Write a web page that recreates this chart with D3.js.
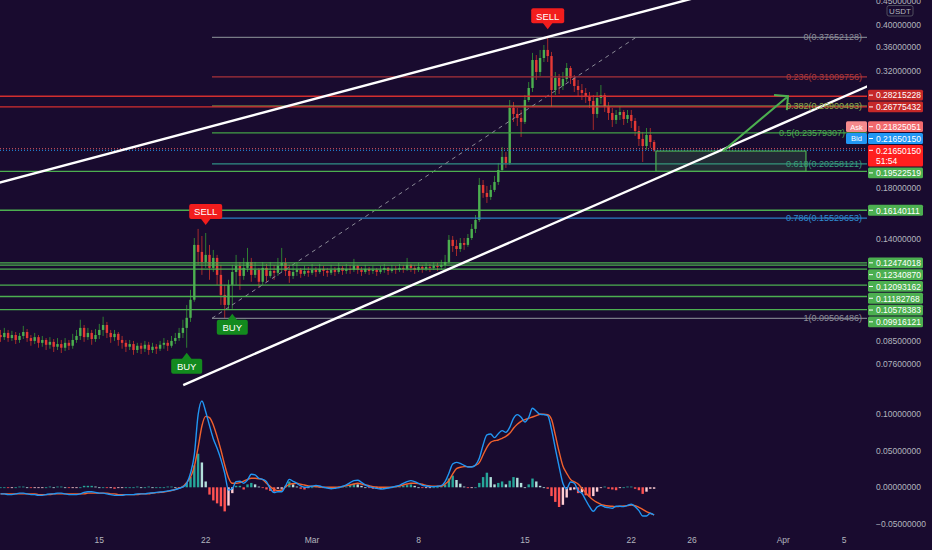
<!DOCTYPE html>
<html><head><meta charset="utf-8">
<script src="https://cdnjs.cloudflare.com/ajax/libs/d3/7.8.5/d3.min.js"></script>
<style>
html,body{margin:0;padding:0;background:#190b2f;overflow:hidden;}
svg{display:block;font-family:"Liberation Sans",Arial,sans-serif;}
</style></head><body>
<svg id="chart" width="932" height="550"></svg>
<script>
// ================= DATA =================
const candleStart = "2021-02-08T12:00:00Z";   // 6h candles
const candleHours = 6;
const firstOpen = 0.0876;
const closes = [
0.0867,0.0885,0.0863,0.0876,0.0855,0.0872,0.0889,0.0863,0.0851,0.0867,
0.0843,0.0855,0.0835,0.0847,0.0827,0.0838,0.0823,0.0843,0.0831,0.0855,
0.0872,0.0907,0.0867,0.0885,0.0859,0.0876,0.0898,0.0920,0.0885,0.0867,
0.0881,0.0855,0.0843,0.0827,0.0838,0.0814,0.0831,0.0819,0.0835,0.0814,
0.0827,0.0819,0.0835,0.0843,0.0831,0.0851,0.0863,0.0885,0.0907,
0.0953,0.1041,0.1362,0.1316,0.1253,0.1297,0.1217,0.1278,0.1176,0.1066,
0.1015,0.1120,0.1193,0.1229,0.1170,0.1217,0.1253,0.1176,0.1205,0.1137,
0.1217,0.1170,0.1199,0.1188,0.1229,0.1247,0.1199,0.1170,0.1193,0.1205,
0.1182,0.1199,0.1188,0.1205,0.1193,0.1211,0.1199,0.1188,0.1205,0.1193,
0.1217,0.1199,0.1211,0.1205,0.1229,0.1205,0.1193,0.1211,0.1199,0.1205,
0.1193,0.1205,0.1217,0.1199,0.1211,0.1205,0.1217,0.1211,0.1235,0.1217,
0.1205,0.1223,0.1211,0.1223,0.1217,0.1229,0.1223,0.1235,0.1253,
0.1396,0.1355,0.1335,0.1375,0.1362,0.1409,0.1473,0.1539,0.1827,0.1757,
0.1723,0.1783,0.1854,0.1966,0.2096,0.2035,0.2664,0.2587,0.2537,0.2488,
0.2770,0.2938,0.3370,0.3178,0.3403,0.3540,0.3436,0.2909,0.3086,0.2967,
0.3070,0.3240,0.3086,0.2967,0.2909,0.2867,0.2811,0.2757,0.2587,0.2798,
0.2839,0.2690,0.2599,0.2512,0.2574,0.2612,0.2524,0.2574,0.2500,0.2380,
0.2289,0.2211,0.2334,0.2255,0.2165015
];
const highs = [
0.0898,0.0907,0.0898,0.0894,0.0889,0.0885,0.0916,0.0902,0.0876,0.0885,
0.0876,0.0872,0.0863,0.0867,0.0859,0.0863,0.0855,0.0863,0.0855,0.0881,
0.0898,0.0944,0.0920,0.0907,0.0898,0.0902,0.0925,0.0958,0.0934,0.0898,
0.0898,0.0889,0.0872,0.0855,0.0855,0.0851,0.0843,0.0843,0.0851,0.0847,
0.0843,0.0838,0.0851,0.0863,0.0855,0.0872,0.0885,0.0907,0.0944,
0.1015,0.1093,0.1409,0.1473,0.1423,0.1444,0.1362,0.1329,0.1297,0.1235,
0.1120,0.1148,0.1235,0.1297,0.1253,0.1278,0.1342,0.1278,0.1253,0.1217,
0.1253,0.1241,0.1253,0.1235,0.1278,0.1342,0.1278,0.1235,0.1229,0.1253,
0.1217,0.1229,0.1223,0.1241,0.1223,0.1241,0.1229,0.1217,0.1235,0.1223,
0.1247,0.1229,0.1241,0.1235,0.1272,0.1235,0.1223,0.1235,0.1223,0.1229,
0.1217,0.1229,0.1241,0.1223,0.1235,0.1229,0.1241,0.1235,0.1278,0.1241,
0.1235,0.1247,0.1235,0.1247,0.1241,0.1253,0.1247,0.1266,0.1297,
0.1430,0.1423,0.1396,0.1409,0.1409,0.1437,0.1509,0.1577,0.1891,0.1872,
0.1818,0.1827,0.1910,0.2035,0.2200,0.2147,0.2770,0.2743,0.2664,0.2638,
0.2839,0.3025,0.3489,0.3453,0.3540,0.3627,0.37652128,0.3506,0.3178,0.3147,
0.3178,0.3321,0.3272,0.3131,0.3055,0.2996,0.2938,0.2881,0.2839,0.2881,
0.2981,0.2867,0.2743,0.2664,0.2638,0.2690,0.2638,0.2638,0.2638,0.2537,
0.2439,0.2369,0.2415,0.2415,0.2277
];
const lows = [
0.0847,0.0855,0.0847,0.0851,0.0838,0.0843,0.0859,0.0847,0.0831,0.0838,
0.0823,0.0827,0.0814,0.0819,0.0806,0.0814,0.0802,0.0810,0.0814,0.0819,
0.0843,0.0855,0.0847,0.0855,0.0835,0.0847,0.0859,0.0872,0.0863,0.0843,
0.0851,0.0831,0.0819,0.0806,0.0814,0.0795,0.0802,0.0798,0.0806,0.0795,
0.0802,0.0798,0.0810,0.0819,0.0810,0.0823,0.0838,0.0851,0.0863,
0.0823,0.0934,0.1031,0.1235,0.1176,0.1217,0.1148,0.1193,0.1120,0.1015,
0.0951,0.0991,0.0996,0.1120,0.1093,0.1148,0.1193,0.1137,0.1159,0.1104,
0.1120,0.1137,0.1159,0.1148,0.1170,0.1193,0.1170,0.1131,0.1153,0.1170,
0.1159,0.1170,0.1165,0.1176,0.1165,0.1182,0.1170,0.1165,0.1176,0.1170,
0.1182,0.1176,0.1182,0.1182,0.1193,0.1182,0.1170,0.1182,0.1176,0.1182,
0.1170,0.1182,0.1188,0.1176,0.1188,0.1182,0.1193,0.1188,0.1199,0.1193,
0.1182,0.1193,0.1188,0.1199,0.1193,0.1205,0.1199,0.1205,0.1217,
0.1241,0.1316,0.1290,0.1316,0.1329,0.1349,0.1396,0.1444,0.1524,0.1715,
0.1673,0.1698,0.1765,0.1827,0.1947,0.1986,0.2015,0.2488,0.2439,0.2311,
0.2463,0.2743,0.2881,0.3055,0.3116,0.3337,0.3337,0.2677,0.2839,0.2853,
0.2909,0.3025,0.2996,0.2881,0.2811,0.2770,0.2730,0.2664,0.2392,0.2537,
0.2716,0.2612,0.2512,0.2427,0.2463,0.2512,0.2451,0.2475,0.2415,0.2323,
0.2211,0.2045,0.2169,0.2190,0.2147
];

// MACD pane, one value per candle
const macdLine = [
-0.009,-0.009,-0.010,-0.010,-0.009,-0.008,-0.008,-0.009,-0.010,-0.010,
-0.011,-0.011,-0.010,-0.009,-0.009,-0.008,-0.008,-0.009,-0.010,-0.010,
-0.010,-0.009,-0.007,-0.006,-0.006,-0.007,-0.008,-0.008,-0.009,-0.010,
-0.011,-0.011,-0.011,-0.010,-0.010,-0.010,-0.009,-0.009,-0.009,-0.008,
-0.0078,-0.0069,-0.0065,-0.0060,-0.0051,-0.0041,-0.0032,-0.0014,0.0005,0.0055,
0.0192,0.0443,0.0991,0.1182,0.1036,0.0845,0.0666,0.0534,0.0383,0.0192,
-0.0037,-0.0019,0.0077,0.0082,0.0055,0.0100,0.0178,0.0169,0.0123,0.0109,
0.0077,-0.0019,-0.0073,-0.0060,-0.0060,0.0018,0.0109,0.0082,0.0055,0.0018,
0.0000,0.0005,0.0014,0.0027,0.0018,0.0000,-0.0009,-0.0019,-0.0014,-0.0005,
0.0014,0.0032,0.0064,0.0091,0.0096,0.0068,0.0032,0.0009,-0.0005,-0.0014,
-0.0023,-0.0019,-0.0009,0.0000,0.0014,0.0027,0.0055,0.0077,0.0091,0.0077,
0.0055,0.0027,0.0018,0.0009,0.0009,0.0014,0.0023,0.0077,0.0192,0.0319,
0.0342,0.0328,0.0301,0.0278,0.0278,0.0306,0.0397,0.0580,0.0717,0.0730,
0.0680,0.0735,0.0776,0.0753,0.0822,0.0945,0.0995,0.0959,0.0895,0.0959,
0.1082,0.1041,0.1000,0.0995,0.0981,0.0794,0.0534,0.0283,0.0055,-0.0019,
0.0073,0.0055,-0.0046,-0.0082,-0.0174,-0.0265,-0.0329,-0.0270,-0.0247,-0.0270,
-0.0279,-0.0288,-0.0260,-0.0260,-0.0265,-0.0247,-0.0233,-0.0265,-0.0320,-0.0393,
-0.0393,-0.0356,-0.0379
];
const signalLine = [
-0.009,-0.009,-0.009,-0.009,-0.009,-0.009,-0.009,-0.009,-0.009,-0.009,
-0.010,-0.010,-0.010,-0.010,-0.009,-0.009,-0.009,-0.009,-0.009,-0.009,
-0.009,-0.009,-0.009,-0.008,-0.008,-0.008,-0.008,-0.008,-0.008,-0.009,
-0.009,-0.010,-0.010,-0.010,-0.010,-0.010,-0.010,-0.009,-0.009,-0.009,
-0.0078,-0.0073,-0.0069,-0.0065,-0.0055,-0.0046,-0.0028,-0.0009,0.0009,0.0064,
0.0137,0.0283,0.0543,0.0840,0.0972,0.0954,0.0854,0.0694,0.0511,0.0306,
0.0132,0.0055,0.0055,0.0064,0.0086,0.0109,0.0123,0.0123,0.0118,0.0105,
0.0055,0.0009,-0.0028,-0.0046,-0.0037,0.0005,0.0041,0.0050,0.0055,0.0041,
0.0032,0.0018,0.0014,0.0009,0.0005,0.0000,0.0000,0.0000,0.0000,0.0005,
0.0009,0.0023,0.0032,0.0045,0.0055,0.0045,0.0032,0.0023,0.0009,0.0005,
0.0000,0.0000,0.0000,0.0000,0.0009,0.0018,0.0032,0.0045,0.0055,0.0055,
0.0050,0.0041,0.0027,0.0018,0.0014,0.0014,0.0014,0.0045,0.0091,0.0183,
0.0256,0.0274,0.0283,0.0283,0.0283,0.0301,0.0338,0.0443,0.0548,0.0616,
0.0639,0.0648,0.0671,0.0698,0.0739,0.0808,0.0863,0.0904,0.0927,0.0945,
0.0963,0.0981,0.1000,0.1000,0.0995,0.0931,0.0717,0.0488,0.0292,0.0192,
0.0109,0.0073,0.0045,-0.0014,-0.0073,-0.0128,-0.0174,-0.0206,-0.0233,-0.0247,
-0.0256,-0.0260,-0.0265,-0.0260,-0.0256,-0.0251,-0.0242,-0.0251,-0.0274,-0.0301,
-0.0334,-0.0356,-0.0379
];
const histogram = [
0,0,-0.001,-0.001,0,0.001,0.001,0,-0.001,-0.001,
-0.001,-0.001,0,0.001,0,0.001,0.001,0,-0.001,-0.001,
-0.001,0,0.002,0.002,0.002,0.001,0,0,-0.001,-0.001,
-0.002,-0.001,-0.001,0,0,0,0.001,0,0,0.001,
0,0,0,0,0.001,0.001,0,-0.001,0.002,0.006,
0.014,0.030,0.046,0.034,0.008,-0.010,-0.018,-0.022,-0.026,-0.033,
-0.025,-0.008,0.002,0.002,-0.003,0.004,0.006,0.004,0.001,-0.001,
-0.003,-0.005,-0.006,-0.002,-0.002,0.002,0.008,0.004,0.001,-0.002,
-0.003,-0.001,0,0.002,0.001,-0.001,-0.001,-0.002,-0.001,-0.001,
0.001,0.001,0.003,0.005,0.004,0.002,0,-0.001,-0.002,-0.002,
-0.002,-0.002,-0.001,0,0.001,0.001,0.002,0.003,0.004,0.002,
0,-0.001,-0.001,-0.001,0,0,0.001,0.004,0.012,0.016,
0.010,0.005,0.001,-0.001,-0.001,0,0.006,0.014,0.020,0.014,
0.004,0.006,0.008,0.004,0.009,0.014,0.013,0.006,0,0.004,
0.012,0.008,0.002,0,-0.002,-0.012,-0.020,-0.027,-0.024,-0.014,
-0.004,-0.003,-0.008,-0.007,-0.011,-0.013,-0.012,-0.006,-0.001,0.001,
-0.002,-0.003,-0.004,-0.001,0,0.001,0.001,-0.002,-0.004,-0.009,
-0.006,-0.002,-0.002
];

const priceTicks = [0.45, 0.40, 0.36, 0.32, 0.18, 0.14, 0.085, 0.076];
const macdTicks = [0.1, 0.05, 0, -0.05];
const timeTickDates = ["2021-02-15","2021-02-22","2021-03-01","2021-03-08","2021-03-15","2021-03-22","2021-03-26","2021-04-01","2021-04-05"];
const timeTickLabels = ["15","22","Mar","8","15","22","26","Apr","5"];

const levelPrices = [0.28215228,0.26775432,0.19522519,0.16140111,0.12474018,0.12340870,0.12093162,0.11182768,0.10578383,0.09916121];
const levelKinds  = ["resistance","resistance","support","support","support","support","support","support","support","support"];

const fibLevels = [0, 0.236, 0.382, 0.5, 0.618, 0.786, 1];
const fibHigh = 0.37652128, fibLow = 0.09506486;
const fibLowDate = "2021-02-22T09:56:00Z", fibHighDate = "2021-03-22T07:26:00Z";

const channelUpper = [["2021-02-08T11:12:00Z",0.1849],["2021-03-25T15:50:00Z",0.4521]];
const channelLower = [["2021-02-20T12:30:00Z",0.06855],["2021-04-06T14:00:00Z",0.2967]];

const boxDates  = ["2021-03-23T14:53:00Z","2021-04-02T11:46:00Z"];
const boxPrices = [0.2157, 0.19522519];
const arrowPoints = [["2021-03-28T00:45:00Z",0.2158],["2021-04-01T07:26:00Z",0.2822]];

const signalIndex = [49, 54, 61, 144];
const signalType  = ["BUY","SELL","BUY","SELL"];

const askPrice = 0.21825051, bidPrice = 0.21650150, lastPrice = 0.21650150;
const countdown = "51:54";
const quoteCurrency = "USDT";

// ================= LAYOUT / STYLE =================
const plotR = 867, mainBottom = 396, macdTop = 398, macdBottom = 528;
const axisTextX = 876;
const C = {
  bg:"#190b2f", axisText:"#b2b5be",
  up:"#4caf50", upWick:"#2e7d32", down:"#e53935", downWick:"#a32a2a",
  resistance:"#d32f2f", resistanceBadge:"#c62828", support:"#4caf50", supportBadge:"#4caf50"
};
const fibColors = ["#787b86","#a8323a","#8aa84a","#43a047","#2f8f86","#2a80c4","#787b86"];
const fibTextColors = ["#8d8d99","#b23a3a","#8fae4a","#4caf50","#3aa07a","#2f8bd0","#8d8d99"];

const svg = d3.select("#chart");
svg.append("rect").attr("width",932).attr("height",550).attr("fill",C.bg);

const defs = svg.append("defs");
defs.append("clipPath").attr("id","clipMain").append("rect")
  .attr("x",0).attr("y",0).attr("width",plotR).attr("height",mainBottom);
defs.append("clipPath").attr("id","clipMacd").append("rect")
  .attr("x",0).attr("y",macdTop).attr("width",plotR).attr("height",macdBottom-macdTop);

// scales
const x = d3.scaleUtc()
  .domain([new Date("2021-02-15T00:00:00Z"), new Date("2021-03-22T00:00:00Z")])
  .range([99.3, 631.3]);
const y = d3.scaleLog().domain([0.40, 0.076]).range([25, 364]);
const ym = d3.scaleLinear().domain([0, 0.1]).range([487.3, 414.3]);
const T = s => new Date(s);
const fmt8 = d3.format(".8f");

const t0 = Date.parse(candleStart);
const candles = closes.map((c,i)=>({
  t:new Date(t0 + i*candleHours*3600e3),
  o: i ? closes[i-1] : firstOpen, h: highs[i], l: lows[i], c
}));

// ---- price badge layout (computed first so labels can avoid tags) ----
const LH = 10.8, GAP = 1.0;
const badges = levelPrices.map((p,k)=>({p, lines:[fmt8(p)],
  fill: levelKinds[k]==="resistance" ? C.resistanceBadge : C.supportBadge}));
badges.push({p:askPrice, lines:[fmt8(askPrice)], fill:"#f26a6e", tag:"Ask", tagFill:"#f58a8d"});
badges.push({p:bidPrice, lines:[fmt8(bidPrice)], fill:"#2196f3", tag:"Bid", tagFill:"#2196f3"});
const lastB = {p:lastPrice, lines:[fmt8(lastPrice), countdown], fill:"#ff1f1f"};
lastB.top = y(lastB.p) - LH/2; lastB.h = LH*2;
const lastY = y(lastPrice);
const above = badges.filter(b=>y(b.p) <= lastY).sort((a,b)=>y(b.p)-y(a.p));
const below = badges.filter(b=>y(b.p) > lastY).sort((a,b)=>y(a.p)-y(b.p));
let edge = lastB.top;
above.forEach(b=>{ b.h = LH*b.lines.length; b.top = Math.min(y(b.p)-LH/2, edge-GAP-b.h); edge = b.top; });
edge = lastB.top + lastB.h;
below.forEach(b=>{ b.h = LH*b.lines.length; b.top = Math.max(y(b.p)-LH/2, edge+GAP); edge = b.top + b.h; });
const tagged = badges.filter(b=>b.tag);

const main = svg.append("g").attr("clip-path","url(#clipMain)");

// ---- candles ----
const bw = 2.4;
const cg = main.append("g");
cg.selectAll("line.wick").data(candles).join("line").attr("class","wick")
  .attr("x1",d=>x(d.t)).attr("x2",d=>x(d.t))
  .attr("y1",d=>y(Math.max(d.h,d.o,d.c))).attr("y2",d=>y(Math.min(d.l,d.o,d.c)))
  .attr("stroke",d=>d.c>=d.o?C.upWick:C.downWick).attr("stroke-width",1);
cg.selectAll("rect.body").data(candles).join("rect").attr("class","body")
  .attr("x",d=>x(d.t)-bw/2).attr("width",bw)
  .attr("y",d=>y(Math.max(d.o,d.c)))
  .attr("height",d=>Math.max(1, y(Math.min(d.o,d.c))-y(Math.max(d.o,d.c))))
  .attr("fill",d=>d.c>=d.o?C.up:C.down);

// ---- fib retracement ----
const fibX0 = x(T(fibLowDate));
const fibPrice = lv => fibHigh - lv*(fibHigh-fibLow);
const fg = main.append("g");
fibLevels.forEach((lv,k)=>{
  const py = y(fibPrice(lv));
  fg.append("line").attr("x1",fibX0).attr("x2",plotR).attr("y1",py).attr("y2",py)
    .attr("stroke",fibColors[k]).attr("stroke-width",1.2);
});
fg.append("line")
  .attr("x1",fibX0).attr("y1",y(fibLow))
  .attr("x2",x(T(fibHighDate))).attr("y2",y(fibHigh))
  .attr("stroke","#8a8a96").attr("stroke-width",1).attr("stroke-dasharray","4,4");

// ---- horizontal levels ----
const lg = main.append("g");
levelPrices.forEach((p,k)=>{
  lg.append("line").attr("x1",0).attr("x2",plotR).attr("y1",y(p)).attr("y2",y(p))
    .attr("stroke", levelKinds[k]==="resistance"?C.resistance:C.support)
    .attr("stroke-width",1.3);
});
lg.append("line").attr("x1",0).attr("x2",plotR).attr("y1",y(askPrice)).attr("y2",y(askPrice))
  .attr("stroke","#e0555a").attr("stroke-width",1).attr("stroke-dasharray","1,2");
lg.append("line").attr("x1",0).attr("x2",plotR).attr("y1",y(bidPrice)).attr("y2",y(bidPrice))
  .attr("stroke","#2196f3").attr("stroke-width",1).attr("stroke-dasharray","1,2");

// ---- target box & arrow ----
main.append("rect")
  .attr("x",x(T(boxDates[0]))).attr("y",y(boxPrices[0]))
  .attr("width",x(T(boxDates[1]))-x(T(boxDates[0])))
  .attr("height",y(boxPrices[1])-y(boxPrices[0]))
  .attr("fill","rgba(76,175,80,0.2)").attr("stroke","#4caf50").attr("stroke-width",1.2);

// ---- channel lines ----
function projected(pts){ return pts.map(p=>[x(T(p[0])), y(p[1])]); }
function extendTo(a,b,xt){ const s=(b[1]-a[1])/(b[0]-a[0]); return [xt, a[1]+s*(xt-a[0])]; }
const up2 = projected(channelUpper);
const lo2 = projected(channelLower);
const upA = extendTo(up2[0],up2[1],-20), upB = extendTo(up2[0],up2[1],plotR+1);
const loB = extendTo(lo2[0],lo2[1],plotR+1);
main.append("line").attr("x1",upA[0]).attr("y1",upA[1]).attr("x2",upB[0]).attr("y2",upB[1])
  .attr("stroke","#ffffff").attr("stroke-width",2.4);
main.append("line").attr("x1",lo2[0][0]).attr("y1",lo2[0][1]).attr("x2",loB[0]).attr("y2",loB[1])
  .attr("stroke","#ffffff").attr("stroke-width",2.4);

// arrow
const ap = projected(arrowPoints);
const ang = Math.atan2(ap[1][1]-ap[0][1], ap[1][0]-ap[0][0]);
const L = 14;
const h1 = [ap[1][0]-L*Math.cos(ang-Math.PI/4), ap[1][1]-L*Math.sin(ang-Math.PI/4)];
const h2 = [ap[1][0]-L*Math.cos(ang+Math.PI/4), ap[1][1]-L*Math.sin(ang+Math.PI/4)];
main.append("path")
  .attr("d",`M${ap[0][0]},${ap[0][1]}L${ap[1][0]},${ap[1][1]}M${h1[0]},${h1[1]}L${ap[1][0]},${ap[1][1]}L${h2[0]},${h2[1]}`)
  .attr("fill","none").attr("stroke","#4caf50").attr("stroke-width",2);

// ---- signals ----
const sg = main.append("g");
signalIndex.forEach((ci,k)=>{
  const d = candles[ci], cx = x(d.t), buy = signalType[k]==="BUY";
  const fill = buy ? "#138a1e" : "#f21d1d";
  const w = buy ? 31 : 33, h = 15, tri = 6, gap = buy ? 5 : 8;
  let tip, boxY, triPts;
  if (buy){ tip = y(d.l)+gap; boxY = tip+tri; triPts=[[cx,tip],[cx-5,tip+tri+0.5],[cx+5,tip+tri+0.5]]; }
  else { tip = y(d.h)-gap; boxY = tip-tri-h; triPts=[[cx,tip],[cx-5,tip-tri-0.5],[cx+5,tip-tri-0.5]]; }
  sg.append("polygon").attr("points",triPts.map(p=>p.join(",")).join(" ")).attr("fill",fill);
  sg.append("rect").attr("x",cx-w/2).attr("y",boxY).attr("width",w).attr("height",h).attr("rx",2).attr("fill",fill);
  sg.append("text").attr("x",cx).attr("y",boxY+h/2+0.5).attr("text-anchor","middle")
    .attr("dominant-baseline","central").attr("fill","#ffffff").attr("font-size",9.5)
    .text(signalType[k]);
});

// fib labels: right-aligned; where an Ask/Bid tag covers the row, the label is clipped at the tag edge
const fl = svg.append("g");
fibLevels.forEach((lv,k)=>{
  const p = fibPrice(lv), py = y(p);
  const covered = tagged.some(b => py > b.top - 4 && py < b.top + b.h + 4);
  const t = fl.append("text").attr("x",862).attr("y",py).attr("text-anchor","end")
    .attr("dominant-baseline","central").attr("font-size",9).attr("fill",fibTextColors[k])
    .text(`${lv}(${fmt8(p)})`);
  if (covered){
    const id = "fibclip"+k;
    defs.append("clipPath").attr("id",id).append("rect")
      .attr("x",700).attr("y",py-8).attr("width",845-700).attr("height",16);
    t.attr("x",845).attr("clip-path",`url(#${id})`);
  }
});

// ---- MACD pane ----
const mg = svg.append("g").attr("clip-path","url(#clipMacd)");
const mdata = candles.map((d,i)=>({t:d.t, m:macdLine[i], s:signalLine[i], h:histogram[i]}));
mg.selectAll("rect.hist").data(mdata).join("rect").attr("class","hist")
  .attr("x",d=>x(d.t)-1.2).attr("width",2.4)
  .attr("y",d=>Math.min(ym(d.h), ym(0)))
  .attr("height",d=>Math.max(0.8, Math.abs(ym(d.h)-ym(0))))
  .attr("fill",(d,i)=>{
    const prev = i ? mdata[i-1].h : d.h;
    if (d.h >= 0) return d.h >= prev ? "#26a69a" : "#b2dfdb";
    return d.h >= prev ? "#ffcdd2" : "#ff5252";
  });
const lineM = d3.line().x(d=>x(d.t)).y(d=>ym(d.m)).curve(d3.curveMonotoneX);
const lineS = d3.line().x(d=>x(d.t)).y(d=>ym(d.s)).curve(d3.curveMonotoneX);
mg.append("path").attr("d",lineS(mdata)).attr("fill","none").attr("stroke","#f0612e").attr("stroke-width",1.4);
mg.append("path").attr("d",lineM(mdata)).attr("fill","none").attr("stroke","#2196f3").attr("stroke-width",1.4);

// ---- price axis ----
const ax = svg.append("g").attr("font-size",8.5).attr("fill",C.axisText);
priceTicks.forEach(p=>{
  ax.append("text").attr("x",axisTextX).attr("y",y(p)).attr("dominant-baseline","central").text(fmt8(p));
});
macdTicks.forEach(v=>{
  ax.append("text").attr("x",axisTextX).attr("y",ym(v)).attr("dominant-baseline","central").text(fmt8(v));
});
ax.append("rect").attr("x",887).attr("y",5.5).attr("width",26).attr("height",10.5).attr("rx",2)
  .attr("fill",C.bg).attr("stroke","#5d606b").attr("stroke-width",0.8);
ax.append("text").attr("x",900).attr("y",11).attr("text-anchor","middle")
  .attr("dominant-baseline","central").attr("font-size",8).text(quoteCurrency);

// ---- time axis ----
timeTickDates.forEach((dstr,k)=>{
  svg.append("text").attr("x",x(new Date(dstr+"T00:00:00Z"))).attr("y",540)
    .attr("text-anchor","middle").attr("dominant-baseline","central")
    .attr("font-size",8.5).attr("fill",C.axisText).text(timeTickLabels[k]);
});

// ---- price badges ----
const bg = svg.append("g").attr("font-size",8.5);
[...above, ...below, lastB].forEach(b=>{
  bg.append("rect").attr("x",868).attr("y",b.top).attr("width",55).attr("height",b.h).attr("rx",1.5).attr("fill",b.fill);
  bg.append("line").attr("x1",869).attr("x2",873).attr("y1",b.top+LH/2).attr("y2",b.top+LH/2)
    .attr("stroke","#ffffff").attr("stroke-width",1);
  b.lines.forEach((t,li)=>{
    bg.append("text").attr("x",axisTextX).attr("y",b.top+LH/2+li*LH+0.3)
      .attr("dominant-baseline","central").attr("fill","#ffffff").text(t);
  });
  if (b.tag){
    bg.append("rect").attr("x",846).attr("y",b.top).attr("width",21).attr("height",b.h).attr("rx",1.5).attr("fill",b.tagFill);
    bg.append("text").attr("x",856.5).attr("y",b.top+LH/2+0.3).attr("text-anchor","middle")
      .attr("dominant-baseline","central").attr("fill","#ffffff").attr("font-size",7.5).text(b.tag);
  }
});
</script>
</body></html>
